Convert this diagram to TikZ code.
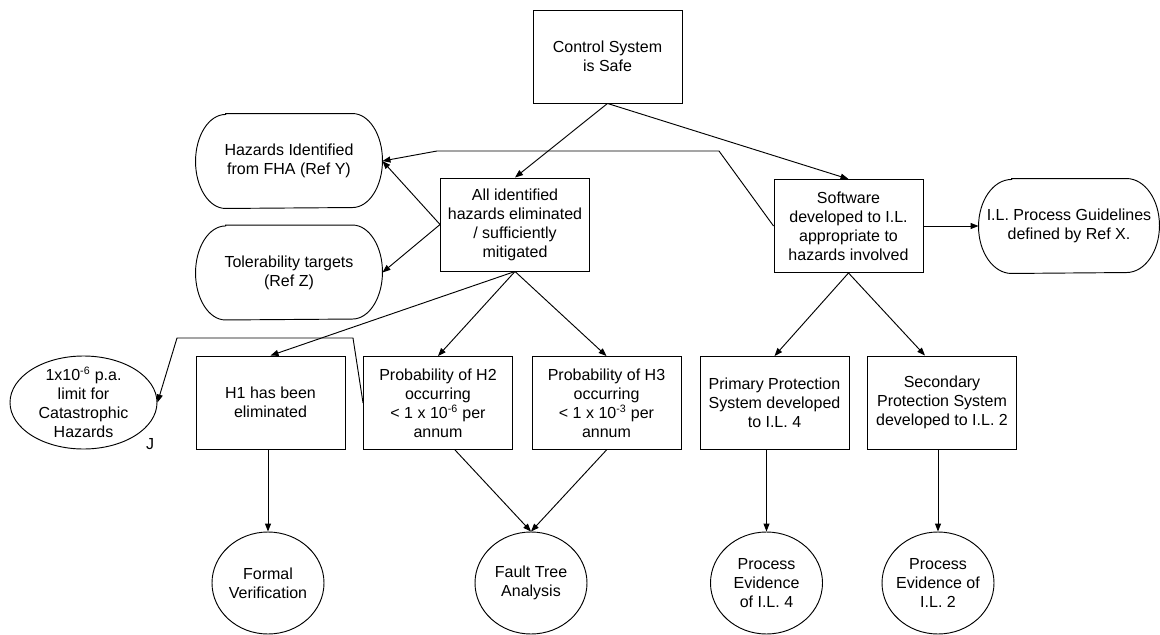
\documentclass[tikz,border=0pt]{standalone}
\usepackage{fontspec}
\setmainfont{Liberation Sans}
\usetikzlibrary{arrows.meta}
\begin{document}
\begin{tikzpicture}[x=0.75pt,y=-0.75pt,font=\fontsize{12}{14.25}\selectfont,line width=0.7pt,
  box/.style={draw,minimum width=111.75pt,minimum height=69.75pt,inner sep=0pt,align=center},
  term/.style={minimum height=70.5pt,inner sep=0pt,align=center},
  oval/.style={minimum width=84pt,minimum height=76.5pt,inner sep=0pt,align=center},
  arr/.style={-{Triangle[length=6pt,width=4.5pt]}}]
  \useasboundingbox (0,0) rectangle (1160,635);
  \node[box] (ctrl) at (607.5,56.5) {Control System\\is Safe};
  \node[term,minimum width=139.5pt] (haz) at (289,161) {Hazards Identified\\from FHA (Ref Y)};
  \node[term,minimum width=139.5pt] (tol) at (289,272.5) {Tolerability targets\\(Ref Z)};
  \node[box] (all) at (515,224.5) {All identified\\hazards eliminated\\/ sufficiently\\mitigated};
  \node[box] (sw) at (848.5,226) {Software\\developed to I.L.\\appropriate to\\hazards involved};
  \node[term,minimum width=135pt] (ilp) at (1069,226) {I.L. Process Guidelines\\defined by Ref X.};
  \foreach \n/\r in {haz/22.5pt,tol/22.5pt,ilp/24.75pt}
    \draw ([xshift=\r]\n.north west) -- ([xshift=-\r]\n.north east)
      arc[start angle=90,end angle=-90,x radius=\r,y radius=35.25pt]
      -- ([xshift=\r]\n.south west)
      arc[start angle=270,end angle=90,x radius=\r,y radius=35.25pt] -- cycle;
  \node[align=center,minimum width=110.25pt,minimum height=69.75pt,inner sep=0pt] (lim) at (83.5,402.5)
    {1x10\textsuperscript{-6} p.a.\\limit for\\Catastrophic\\Hazards};
  \draw (lim.center) ellipse [x radius=55.125pt,y radius=34.875pt];
  \node (j) at (150,444) {J};
  \node[box] (h1) at (270.5,402.5) {H1 has been\\eliminated};
  \node[box] (h2) at (438,403) {Probability of H2\\occurring\\< 1 x 10\textsuperscript{-6} per\\annum};
  \node[box] (h3) at (606.5,403) {Probability of H3\\occurring\\< 1 x 10\textsuperscript{-3} per\\annum};
  \node[box] (pri) at (774.5,403) {Primary Protection\\System developed\\to I.L. 4};
  \node[box] (sec) at (942,402.5) {Secondary\\Protection System\\developed to I.L. 2};
  \node[oval] (fv) at (268,583) {Formal\\Verification};
  \node[oval] (fta) at (531,583) {Fault Tree\\Analysis};
  \node[oval] (pe4) at (766.5,583) {Process\\Evidence\\of I.L. 4};
  \node[oval] (pe2) at (938,583) {Process\\Evidence of\\I.L. 2};
  \foreach \n in {fv,fta,pe4,pe2}
    \draw (\n.center) ellipse [x radius=42pt,y radius=38.25pt];
  \draw[arr] (ctrl.south) -- (all.north);
  \draw[arr] (ctrl.south) -- (sw.north);
  \draw[arr] (all.west) -- (haz.east);
  \draw[arr] (all.west) -- (tol.east);
  \draw[arr] (sw.west) -- (719,151) -- (437,151) -- (haz.east);
  \draw[arr] (sw.east) -- (ilp.west);
  \draw[arr] (all.south) -- (h1.north);
  \draw[arr] (all.south) -- (h2.north);
  \draw[arr] (all.south) -- (h3.north);
  \draw[arr] (h2.west) -- (353,338) -- (177,338) -- (lim.east);
  \draw[arr] (sw.south) -- (pri.north);
  \draw[arr] (sw.south) -- ([xshift=-12.75pt]sec.north);
  \draw[arr] (fv |- h1.south) -- (fv.north);
  \draw[arr] ([xshift=12.75pt]h2.south) -- (fta.north);
  \draw[arr] (h3.south) -- (fta.north);
  \draw[arr] (pe4 |- pri.south) -- (pe4.north);
  \draw[arr] (pe2 |- sec.south) -- (pe2.north);
\end{tikzpicture}
\end{document}
